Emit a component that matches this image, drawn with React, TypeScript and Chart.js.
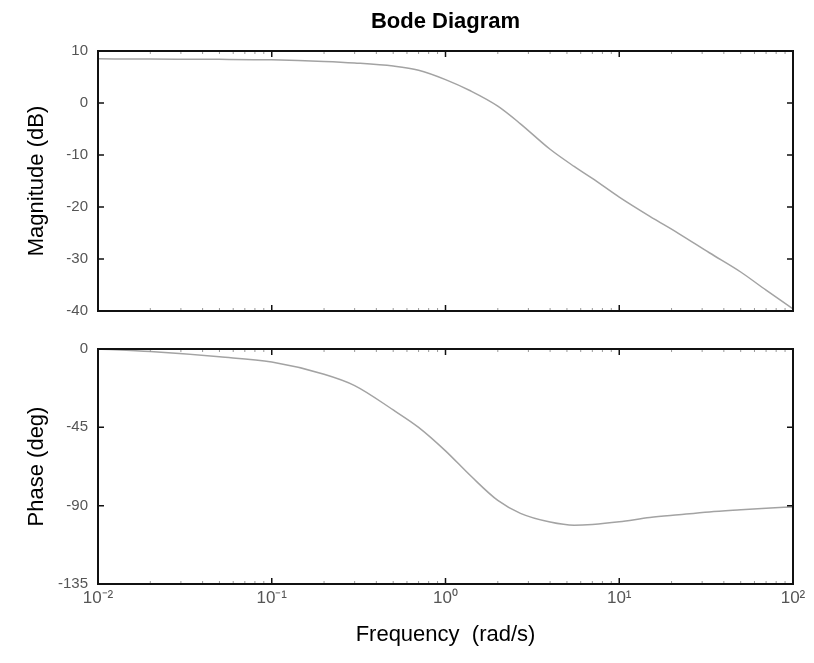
import React, { useEffect, useRef } from 'react';
import { Chart, registerables } from 'chart.js';

Chart.register(...registerables);

// ---- data ----
const frequency = [0.01, 0.02, 0.05, 0.1, 0.2, 0.3, 0.5, 0.7, 1, 1.4, 2, 2.7, 4, 5.5, 7, 10, 15, 22, 33, 50, 70, 100];
const magnitudeDb = [8.5, 8.45, 8.4, 8.3, 8.0, 7.7, 7.1, 6.3, 4.5, 2.3, -0.6, -4.0, -8.9, -12.2, -14.5, -18.1, -21.8, -25.1, -28.8, -32.5, -36.0, -39.6];
const phaseDeg = [0, -1.5, -4.5, -7.5, -14.5, -21, -35, -45, -58.5, -73, -87, -94.4, -99.4, -101.2, -100.8, -99.3, -96.8, -95.2, -93.6, -92.4, -91.5, -90.7];

const xTickValues = [0.01, 0.1, 1, 10, 100];
const xTickLabels = ['10⁻²', '10⁻¹', '10⁰', '10¹', '10²'];
const magTickValues = [10, 0, -10, -20, -30, -40];
const phaseTickValues = [0, -45, -90, -135];

const TITLE = 'Bode Diagram';
const MAG_LABEL = 'Magnitude (dB)';
const PHASE_LABEL = 'Phase (deg)';
const FREQ_LABEL = 'Frequency  (rad/s)';

const FONT = "'Liberation Sans', Arial, sans-serif";
const LINE_COLOR = '#a3a3a3';
const TICK_COLOR = '#555';

const minorValues: number[] = [];
for (let d = -2; d < 2; d++) {
  for (let k = 2; k <= 9; k++) minorValues.push(k * Math.pow(10, d));
}

const framePlugin = {
  id: 'bodeFrame',
  afterDatasetsDraw(chart: any) {
    const { ctx, chartArea: a, scales } = chart;
    const x = scales.x;
    const y = scales.y;
    ctx.save();
    ctx.strokeStyle = '#111';
    ctx.lineWidth = 1.5;
    xTickValues.forEach((v) => {
      const px = x.getPixelForValue(v);
      ctx.beginPath();
      ctx.moveTo(px, a.bottom);
      ctx.lineTo(px, a.bottom - 6);
      ctx.moveTo(px, a.top);
      ctx.lineTo(px, a.top + 6);
      ctx.stroke();
    });
    y.ticks.forEach((t: any) => {
      const py = y.getPixelForValue(t.value);
      ctx.beginPath();
      ctx.moveTo(a.left, py);
      ctx.lineTo(a.left + 6, py);
      ctx.moveTo(a.right, py);
      ctx.lineTo(a.right - 6, py);
      ctx.stroke();
    });
    ctx.strokeStyle = '#999';
    ctx.lineWidth = 1;
    minorValues.forEach((v) => {
      const px = x.getPixelForValue(v);
      ctx.beginPath();
      ctx.moveTo(px, a.bottom);
      ctx.lineTo(px, a.bottom - 3);
      ctx.moveTo(px, a.top);
      ctx.lineTo(px, a.top + 3);
      ctx.stroke();
    });
    ctx.strokeStyle = '#111';
    ctx.lineWidth = 2;
    ctx.strokeRect(a.left, a.top, a.right - a.left, a.bottom - a.top);
    ctx.restore();
  },
};

function xScale(showLabels: boolean): any {
  return {
    type: 'logarithmic',
    min: 0.01,
    max: 100,
    display: showLabels,
    grid: { display: false, drawTicks: false },
    border: { display: false },
    afterBuildTicks: (s: any) => {
      s.ticks = xTickValues.map((v) => ({ value: v }));
    },
    ticks: {
      autoSkip: false,
      maxRotation: 0,
      padding: 4,
      color: TICK_COLOR,
      font: { family: FONT, size: 17 },
      callback: (v: any) => {
        const i = xTickValues.findIndex((t) => Math.abs(t - v) < t * 1e-6);
        return i >= 0 ? xTickLabels[i] : '';
      },
    },
    title: {
      display: showLabels,
      text: FREQ_LABEL,
      color: '#000',
      font: { family: FONT, size: 22 },
      padding: { top: 0, bottom: 15 },
    },
    afterFit: showLabels
      ? (s: any) => {
          s.height = 79;
        }
      : undefined,
  };
}

function yScale(min: number, max: number, step: number, ticks: number[], label: string): any {
  return {
    type: 'linear',
    min,
    max,
    grid: { display: false, drawTicks: false },
    border: { display: false },
    afterBuildTicks: (s: any) => {
      s.ticks = ticks.map((v) => ({ value: v }));
    },
    ticks: {
      stepSize: step,
      padding: 10,
      color: TICK_COLOR,
      font: { family: FONT, size: 15 },
    },
    title: {
      display: true,
      text: label,
      color: '#000',
      font: { family: FONT, size: 22 },
      padding: { top: 24, bottom: 0 },
    },
    afterFit: (s: any) => {
      s.width = 98;
    },
  };
}

function dataset(values: number[]): any {
  return {
    data: frequency.map((f, i) => ({ x: f, y: values[i] })),
    borderColor: LINE_COLOR,
    borderWidth: 1.5,
    pointRadius: 0,
    cubicInterpolationMode: 'monotone',
    fill: false,
  };
}

export default function App() {
  const magRef = useRef<HTMLCanvasElement>(null);
  const phaseRef = useRef<HTMLCanvasElement>(null);

  useEffect(() => {
    const mag = new Chart(magRef.current as HTMLCanvasElement, {
      type: 'line',
      data: { datasets: [dataset(magnitudeDb)] },
      options: {
        responsive: false,
        animation: false,
        layout: { padding: { left: 0, right: 21, top: 0, bottom: 8 } },
        plugins: {
          legend: { display: false },
          tooltip: { enabled: false },
          title: {
            display: true,
            fullSize: false,
            text: TITLE,
            color: '#000',
            font: { family: FONT, size: 22, weight: 'bold' },
            padding: { top: 9, bottom: 15.6 },
          },
        },
        scales: {
          x: xScale(false),
          y: yScale(-40, 10, 10, magTickValues, MAG_LABEL),
        },
      },
      plugins: [framePlugin],
    } as any);

    const phase = new Chart(phaseRef.current as HTMLCanvasElement, {
      type: 'line',
      data: { datasets: [dataset(phaseDeg)] },
      options: {
        responsive: false,
        animation: false,
        layout: { padding: { left: 0, right: 21, top: 13, bottom: 0 } },
        plugins: {
          legend: { display: false },
          tooltip: { enabled: false },
        },
        scales: {
          x: xScale(true),
          y: yScale(-135, 0, 45, phaseTickValues, PHASE_LABEL),
        },
      },
      plugins: [framePlugin],
    } as any);

    return () => {
      mag.destroy();
      phase.destroy();
    };
  }, []);

  return (
    <div style={{ position: 'absolute', left: 0, top: 0, width: 814, height: 663, background: '#fff' }}>
      <canvas ref={magRef} width={814} height={330} style={{ position: 'absolute', left: 0, top: 0, display: 'block' }} />
      <canvas ref={phaseRef} width={814} height={333} style={{ position: 'absolute', left: 0, top: 330, display: 'block' }} />
    </div>
  );
}
